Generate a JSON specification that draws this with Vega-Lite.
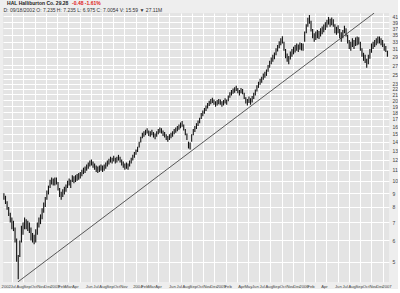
{
  "$schema": "https://vega.github.io/schema/vega-lite/v6.json",
  "width": 386,
  "height": 269,
  "padding": {"left": 1, "top": 1, "right": 0, "bottom": 0},
  "background": "#eeeeee",
  "title": {
    "text": "HAL Halliburton Co.  29.28",
    "subtitle": "\u200b\u2003\u2003\u2003\u2003\u2003\u2003\u2003\u2003\u2003\u2003\u2003\u2003\u2003-0.48  -1.61%",
    "anchor": "start",
    "font": "Liberation Sans",
    "fontSize": 5,
    "fontWeight": "bold",
    "color": "#222222",
    "subtitleFont": "Liberation Sans",
    "subtitleFontSize": 5,
    "subtitleFontWeight": "bold",
    "subtitleColor": "#e02020",
    "subtitlePadding": -5,
    "offset": 1,
    "dx": 6
  },
  "config": {
    "view": {"fill": "#e4e4e4", "stroke": null},
    "axis": {"labelFont": "Liberation Sans", "titleFont": "Liberation Sans"}
  },
  "resolve": {"axis": {"x": "independent"}},
  "layer": [
    {
      "data": {"values": [
        {"d":"2002-05-24","l":8.5,"h":9.0},{"d":"2002-05-31","l":8.2,"h":8.8},{"d":"2002-06-07","l":7.8,"h":8.4},{"d":"2002-06-14","l":7.4,"h":8.0},{"d":"2002-06-21","l":7.0,"h":7.6},{"d":"2002-06-28","l":6.6,"h":7.3},{"d":"2002-07-05","l":6.5,"h":7.1},{"d":"2002-07-12","l":5.9,"h":6.7},{"d":"2002-07-19","l":5.0,"h":6.1},{"d":"2002-07-26","l":4.3,"h":5.3},
        {"d":"2002-08-02","l":5.2,"h":6.0},{"d":"2002-08-09","l":5.9,"h":6.8},{"d":"2002-08-16","l":6.3,"h":7.0},{"d":"2002-08-23","l":6.6,"h":7.3},{"d":"2002-08-30","l":6.6,"h":7.2},{"d":"2002-09-06","l":6.5,"h":7.1},{"d":"2002-09-13","l":6.4,"h":7.0},{"d":"2002-09-20","l":6.0,"h":6.7},{"d":"2002-09-27","l":5.9,"h":6.4},{"d":"2002-10-04","l":5.8,"h":6.3},
        {"d":"2002-10-11","l":5.9,"h":6.6},{"d":"2002-10-18","l":6.3,"h":7.0},{"d":"2002-10-25","l":6.7,"h":7.3},{"d":"2002-11-01","l":6.9,"h":7.5},{"d":"2002-11-08","l":7.2,"h":7.9},{"d":"2002-11-15","l":7.6,"h":8.3},{"d":"2002-11-22","l":8.0,"h":8.7},{"d":"2002-11-29","l":8.5,"h":9.2},{"d":"2002-12-06","l":8.9,"h":9.6},{"d":"2002-12-13","l":9.4,"h":10.1},
        {"d":"2002-12-20","l":9.7,"h":10.3},{"d":"2002-12-27","l":9.6,"h":10.2},
        {"d":"2003-01-03","l":9.6,"h":10.3},{"d":"2003-01-10","l":9.7,"h":10.3},{"d":"2003-01-17","l":9.2,"h":9.9},{"d":"2003-01-24","l":8.7,"h":9.4},{"d":"2003-01-31","l":8.5,"h":9.1},{"d":"2003-02-07","l":8.7,"h":9.3},{"d":"2003-02-14","l":8.9,"h":9.5},{"d":"2003-02-21","l":9.1,"h":9.7},{"d":"2003-02-28","l":9.4,"h":10.0},
        {"d":"2003-03-07","l":9.6,"h":10.2},{"d":"2003-03-14","l":9.4,"h":10.1},{"d":"2003-03-21","l":9.9,"h":10.5},{"d":"2003-03-28","l":9.8,"h":10.4},{"d":"2003-04-04","l":9.9,"h":10.5},{"d":"2003-04-11","l":10.0,"h":10.6},{"d":"2003-04-18","l":10.1,"h":10.7},{"d":"2003-04-25","l":10.2,"h":10.8},{"d":"2003-05-02","l":10.4,"h":11.0},{"d":"2003-05-09","l":10.6,"h":11.2},
        {"d":"2003-05-16","l":10.7,"h":11.3},{"d":"2003-05-23","l":10.9,"h":11.5},{"d":"2003-05-30","l":11.1,"h":11.7},{"d":"2003-06-06","l":11.3,"h":11.9},{"d":"2003-06-13","l":11.4,"h":12.0},{"d":"2003-06-20","l":11.2,"h":11.8},{"d":"2003-06-27","l":11.0,"h":11.6},{"d":"2003-07-04","l":10.8,"h":11.4},{"d":"2003-07-11","l":10.7,"h":11.3},{"d":"2003-07-18","l":10.8,"h":11.4},
        {"d":"2003-07-25","l":10.9,"h":11.5},{"d":"2003-08-01","l":10.8,"h":11.4},{"d":"2003-08-08","l":10.9,"h":11.5},{"d":"2003-08-15","l":11.1,"h":11.7},{"d":"2003-08-22","l":11.3,"h":11.9},{"d":"2003-08-29","l":11.5,"h":12.1},{"d":"2003-09-05","l":11.7,"h":12.3},{"d":"2003-09-12","l":11.6,"h":12.2},{"d":"2003-09-19","l":11.8,"h":12.4},{"d":"2003-09-26","l":11.6,"h":12.2},
        {"d":"2003-10-03","l":11.7,"h":12.3},{"d":"2003-10-10","l":11.9,"h":12.5},{"d":"2003-10-17","l":11.7,"h":12.3},{"d":"2003-10-24","l":11.4,"h":12.0},{"d":"2003-10-31","l":11.2,"h":11.8},{"d":"2003-11-07","l":11.0,"h":11.6},{"d":"2003-11-14","l":11.1,"h":11.7},{"d":"2003-11-21","l":11.0,"h":11.6},{"d":"2003-11-28","l":11.3,"h":11.9},{"d":"2003-12-05","l":11.6,"h":12.2},
        {"d":"2003-12-12","l":11.9,"h":12.5},{"d":"2003-12-19","l":12.2,"h":12.8},{"d":"2003-12-26","l":12.5,"h":13.1},
        {"d":"2004-01-02","l":12.8,"h":13.4},{"d":"2004-01-09","l":13.3,"h":14.0},{"d":"2004-01-16","l":13.9,"h":14.6},{"d":"2004-01-23","l":14.4,"h":15.1},{"d":"2004-01-30","l":14.6,"h":15.3},{"d":"2004-02-06","l":14.8,"h":15.5},{"d":"2004-02-13","l":15.0,"h":15.7},{"d":"2004-02-20","l":14.7,"h":15.4},{"d":"2004-02-27","l":14.6,"h":15.3},
        {"d":"2004-03-05","l":14.8,"h":15.5},{"d":"2004-03-12","l":14.5,"h":15.2},{"d":"2004-03-19","l":14.3,"h":15.0},{"d":"2004-03-26","l":14.6,"h":15.3},{"d":"2004-04-02","l":14.9,"h":15.6},{"d":"2004-04-09","l":15.1,"h":15.8},{"d":"2004-04-16","l":15.0,"h":15.7},{"d":"2004-04-23","l":14.7,"h":15.4},{"d":"2004-04-30","l":14.5,"h":15.2},{"d":"2004-05-07","l":14.2,"h":14.9},
        {"d":"2004-05-14","l":14.0,"h":14.7},{"d":"2004-05-21","l":14.2,"h":14.9},{"d":"2004-05-28","l":14.4,"h":15.1},{"d":"2004-06-04","l":14.6,"h":15.3},{"d":"2004-06-11","l":14.9,"h":15.6},{"d":"2004-06-18","l":15.1,"h":15.8},{"d":"2004-06-25","l":15.3,"h":16.0},{"d":"2004-07-02","l":15.5,"h":16.2},{"d":"2004-07-09","l":15.7,"h":16.5},{"d":"2004-07-16","l":15.9,"h":16.7},
        {"d":"2004-07-23","l":15.4,"h":16.2},{"d":"2004-07-30","l":14.8,"h":15.6},{"d":"2004-08-06","l":14.2,"h":15.0},{"d":"2004-08-13","l":13.2,"h":14.0},{"d":"2004-08-20","l":13.1,"h":13.9},{"d":"2004-08-27","l":14.0,"h":14.9},{"d":"2004-09-03","l":14.8,"h":15.6},{"d":"2004-09-10","l":15.2,"h":16.0},{"d":"2004-09-17","l":15.6,"h":16.4},{"d":"2004-09-24","l":16.0,"h":16.8},
        {"d":"2004-10-01","l":16.4,"h":17.2},{"d":"2004-10-08","l":17.0,"h":17.9},{"d":"2004-10-15","l":17.4,"h":18.3},{"d":"2004-10-22","l":17.8,"h":18.7},{"d":"2004-10-29","l":18.2,"h":19.1},{"d":"2004-11-05","l":18.6,"h":19.5},{"d":"2004-11-12","l":19.0,"h":19.9},{"d":"2004-11-19","l":19.3,"h":20.2},{"d":"2004-11-26","l":19.5,"h":20.4},{"d":"2004-12-03","l":19.2,"h":20.1},
        {"d":"2004-12-10","l":18.9,"h":19.8},{"d":"2004-12-17","l":19.1,"h":20.0},{"d":"2004-12-24","l":19.3,"h":20.2},{"d":"2004-12-31","l":19.2,"h":20.1},
        {"d":"2005-01-07","l":18.9,"h":19.8},{"d":"2005-01-14","l":19.1,"h":20.0},{"d":"2005-01-21","l":19.4,"h":20.3},{"d":"2005-01-28","l":19.2,"h":20.1},{"d":"2005-02-04","l":19.8,"h":20.8},{"d":"2005-02-11","l":20.4,"h":21.4},{"d":"2005-02-18","l":20.8,"h":21.8},{"d":"2005-02-25","l":21.1,"h":22.1},{"d":"2005-03-04","l":21.3,"h":22.3},
        {"d":"2005-03-11","l":21.6,"h":22.6},{"d":"2005-03-18","l":21.2,"h":22.2},{"d":"2005-03-25","l":20.8,"h":21.8},{"d":"2005-04-01","l":21.2,"h":22.2},{"d":"2005-04-08","l":21.0,"h":22.0},{"d":"2005-04-15","l":20.2,"h":21.3},{"d":"2005-04-22","l":19.4,"h":20.5},{"d":"2005-04-29","l":19.1,"h":20.2},{"d":"2005-05-06","l":19.5,"h":20.6},{"d":"2005-05-13","l":19.2,"h":20.3},
        {"d":"2005-05-20","l":19.6,"h":20.7},{"d":"2005-05-27","l":20.2,"h":21.3},{"d":"2005-06-03","l":20.8,"h":21.9},{"d":"2005-06-10","l":21.5,"h":22.7},{"d":"2005-06-17","l":22.2,"h":23.4},{"d":"2005-06-24","l":22.8,"h":24.0},{"d":"2005-07-01","l":23.2,"h":24.4},{"d":"2005-07-08","l":23.8,"h":25.1},{"d":"2005-07-15","l":24.2,"h":25.5},{"d":"2005-07-22","l":24.6,"h":26.0},
        {"d":"2005-07-29","l":25.5,"h":27.0},{"d":"2005-08-05","l":26.4,"h":28.0},{"d":"2005-08-12","l":27.2,"h":28.8},{"d":"2005-08-19","l":27.8,"h":29.5},{"d":"2005-08-26","l":28.4,"h":30.1},{"d":"2005-09-02","l":29.4,"h":31.2},{"d":"2005-09-09","l":30.3,"h":32.1},{"d":"2005-09-16","l":31.2,"h":33.1},{"d":"2005-09-23","l":32.0,"h":34.0},{"d":"2005-09-30","l":32.5,"h":34.6},
        {"d":"2005-10-07","l":30.5,"h":33.0},{"d":"2005-10-14","l":28.6,"h":31.0},{"d":"2005-10-21","l":27.8,"h":29.8},{"d":"2005-10-28","l":27.2,"h":29.2},{"d":"2005-11-04","l":28.3,"h":30.3},{"d":"2005-11-11","l":29.0,"h":31.0},{"d":"2005-11-18","l":29.6,"h":31.6},{"d":"2005-11-25","l":30.1,"h":32.1},{"d":"2005-12-02","l":30.5,"h":32.5},{"d":"2005-12-09","l":30.2,"h":32.2},
        {"d":"2005-12-16","l":30.8,"h":32.8},{"d":"2005-12-23","l":30.6,"h":32.6},{"d":"2005-12-30","l":30.5,"h":32.5},
        {"d":"2006-01-06","l":33.0,"h":36.0},{"d":"2006-01-13","l":35.5,"h":38.3},{"d":"2006-01-20","l":37.5,"h":40.5},{"d":"2006-01-27","l":38.5,"h":41.5},{"d":"2006-02-03","l":36.0,"h":39.5},{"d":"2006-02-10","l":34.0,"h":36.8},{"d":"2006-02-17","l":33.0,"h":35.5},{"d":"2006-02-24","l":33.5,"h":36.0},{"d":"2006-03-03","l":34.0,"h":36.5},
        {"d":"2006-03-10","l":33.8,"h":36.2},{"d":"2006-03-17","l":34.5,"h":37.0},{"d":"2006-03-24","l":35.2,"h":37.6},{"d":"2006-03-31","l":35.8,"h":38.2},{"d":"2006-04-07","l":36.5,"h":39.0},{"d":"2006-04-14","l":37.3,"h":39.8},{"d":"2006-04-21","l":38.2,"h":40.8},{"d":"2006-04-28","l":37.5,"h":40.2},{"d":"2006-05-05","l":38.0,"h":40.6},{"d":"2006-05-12","l":37.5,"h":40.0},
        {"d":"2006-05-19","l":35.5,"h":38.3},{"d":"2006-05-26","l":35.0,"h":37.5},{"d":"2006-06-02","l":35.5,"h":38.0},{"d":"2006-06-09","l":34.0,"h":36.8},{"d":"2006-06-16","l":33.0,"h":35.8},{"d":"2006-06-23","l":34.0,"h":36.5},{"d":"2006-06-30","l":35.5,"h":37.8},{"d":"2006-07-07","l":34.5,"h":37.0},{"d":"2006-07-14","l":32.5,"h":35.0},{"d":"2006-07-21","l":31.0,"h":33.5},
        {"d":"2006-07-28","l":30.5,"h":33.0},{"d":"2006-08-04","l":31.5,"h":34.0},{"d":"2006-08-11","l":31.0,"h":33.5},{"d":"2006-08-18","l":31.8,"h":34.2},{"d":"2006-08-25","l":32.0,"h":34.5},{"d":"2006-09-01","l":32.2,"h":34.3},{"d":"2006-09-08","l":30.5,"h":33.0},{"d":"2006-09-15","l":29.0,"h":31.2},{"d":"2006-09-22","l":28.0,"h":30.0},{"d":"2006-09-29","l":27.5,"h":29.5},
        {"d":"2006-10-06","l":26.4,"h":28.5},{"d":"2006-10-13","l":27.2,"h":29.5},{"d":"2006-10-20","l":28.5,"h":31.0},{"d":"2006-10-27","l":30.0,"h":32.5},{"d":"2006-11-03","l":31.0,"h":33.0},{"d":"2006-11-10","l":31.5,"h":33.5},{"d":"2006-11-17","l":32.0,"h":34.0},{"d":"2006-11-24","l":32.5,"h":34.5},{"d":"2006-12-01","l":32.5,"h":34.5},{"d":"2006-12-08","l":32.0,"h":34.0},
        {"d":"2006-12-15","l":31.5,"h":33.5},{"d":"2006-12-22","l":30.5,"h":32.5},{"d":"2006-12-29","l":30.2,"h":31.8},{"d":"2007-01-05","l":29.0,"h":30.5}
      ]},
      "mark": {"type": "rule", "color": "#111111", "strokeWidth": 1.1, "clip": true},
      "encoding": {
        "x": {
          "field": "d", "type": "temporal",
          "scale": {"type": "utc", "domain": ["2002-05-20", "2007-01-12"]},
          "axis": {
            "orient": "bottom", "title": null, "grid": false, "ticks": false, "domain": false,
            "labelFontSize": 4.2, "labelColor": "#444444", "labelPadding": 2, "labelOverlap": false, "labelFlush": false,
            "values": ["2002-06-01","2002-07-01","2002-08-01","2002-09-01","2002-10-01","2002-11-01","2002-12-01","2003-01-01","2003-02-01","2003-03-01","2003-04-01","2003-06-01","2003-07-01","2003-08-01","2003-09-01","2003-10-01","2003-11-01","2004-01-01","2004-02-01","2004-03-01","2004-04-01","2004-06-01","2004-07-01","2004-08-01","2004-09-01","2004-10-01","2004-11-01","2004-12-01","2005-01-01","2005-02-01","2005-04-01","2005-05-01","2005-06-01","2005-07-01","2005-08-01","2005-09-01","2005-10-01","2005-11-01","2005-12-01","2006-01-01","2006-02-01","2006-04-01","2006-06-01","2006-07-01","2006-08-01","2006-09-01","2006-10-01","2006-11-01","2006-12-01","2007-01-01"],
            "labelExpr": "(utcFormat(datum.value, '%m') == '01' || utcFormat(datum.value, '%Y-%m') == '2002-06') ? utcFormat(datum.value, '%Y') : utcFormat(datum.value, '%b')"
          }
        },
        "y": {
          "field": "l", "type": "quantitative",
          "scale": {"type": "log", "domain": [4.2, 42.2], "nice": false, "zero": false},
          "axis": {
            "orient": "right", "title": null, "ticks": false, "domain": false,
            "grid": true, "gridColor": "#ffffff", "gridWidth": 1,
            "labelFontSize": 5, "labelColor": "#444444", "labelPadding": 3,
            "values": [5,6,7,8,9,10,11,12,13,14,15,16,17,18,19,20,21,22,23,24,25,26,27,29,31,33,35,37,39,41]
          }
        },
        "y2": {"field": "h"}
      }
    },
    {
      "data": {"values": [
        {"d": "2002-07-24", "v": 4.2},
        {"d": "2006-11-08", "v": 42.2}
      ]},
      "mark": {"type": "line", "color": "#333333", "strokeWidth": 0.8, "clip": true},
      "encoding": {
        "x": {
          "field": "d", "type": "temporal",
          "axis": {
            "orient": "top", "labels": false, "ticks": false, "domain": false,
            "grid": true, "gridColor": "#ffffff", "gridWidth": 1,
            "values": ["2002-06-29","2002-08-18","2002-10-06","2002-11-25","2003-01-13","2003-03-03","2003-04-22","2003-06-10","2003-07-30","2003-09-17","2003-11-05","2003-12-25","2004-02-12","2004-04-01","2004-05-21","2004-07-09","2004-08-28","2004-10-16","2004-12-04","2005-01-23","2005-03-13","2005-05-02","2005-06-20","2005-08-08","2005-09-27","2005-11-15","2006-01-04","2006-02-22","2006-04-12","2006-06-01","2006-07-20","2006-09-08","2006-10-27","2006-12-15"],
            "title": "D: 09/18/2002   O: 7.235   H: 7.235   L: 6.975   C: 7.0054   V: 15.59   \u25bc 27.11M",
            "titleFontSize": 5, "titleFontWeight": "normal", "titleColor": "#333333",
            "titleAnchor": "start", "titlePadding": 1
          }
        },
        "y": {"field": "v", "type": "quantitative"}
      }
    }
  ]
}
